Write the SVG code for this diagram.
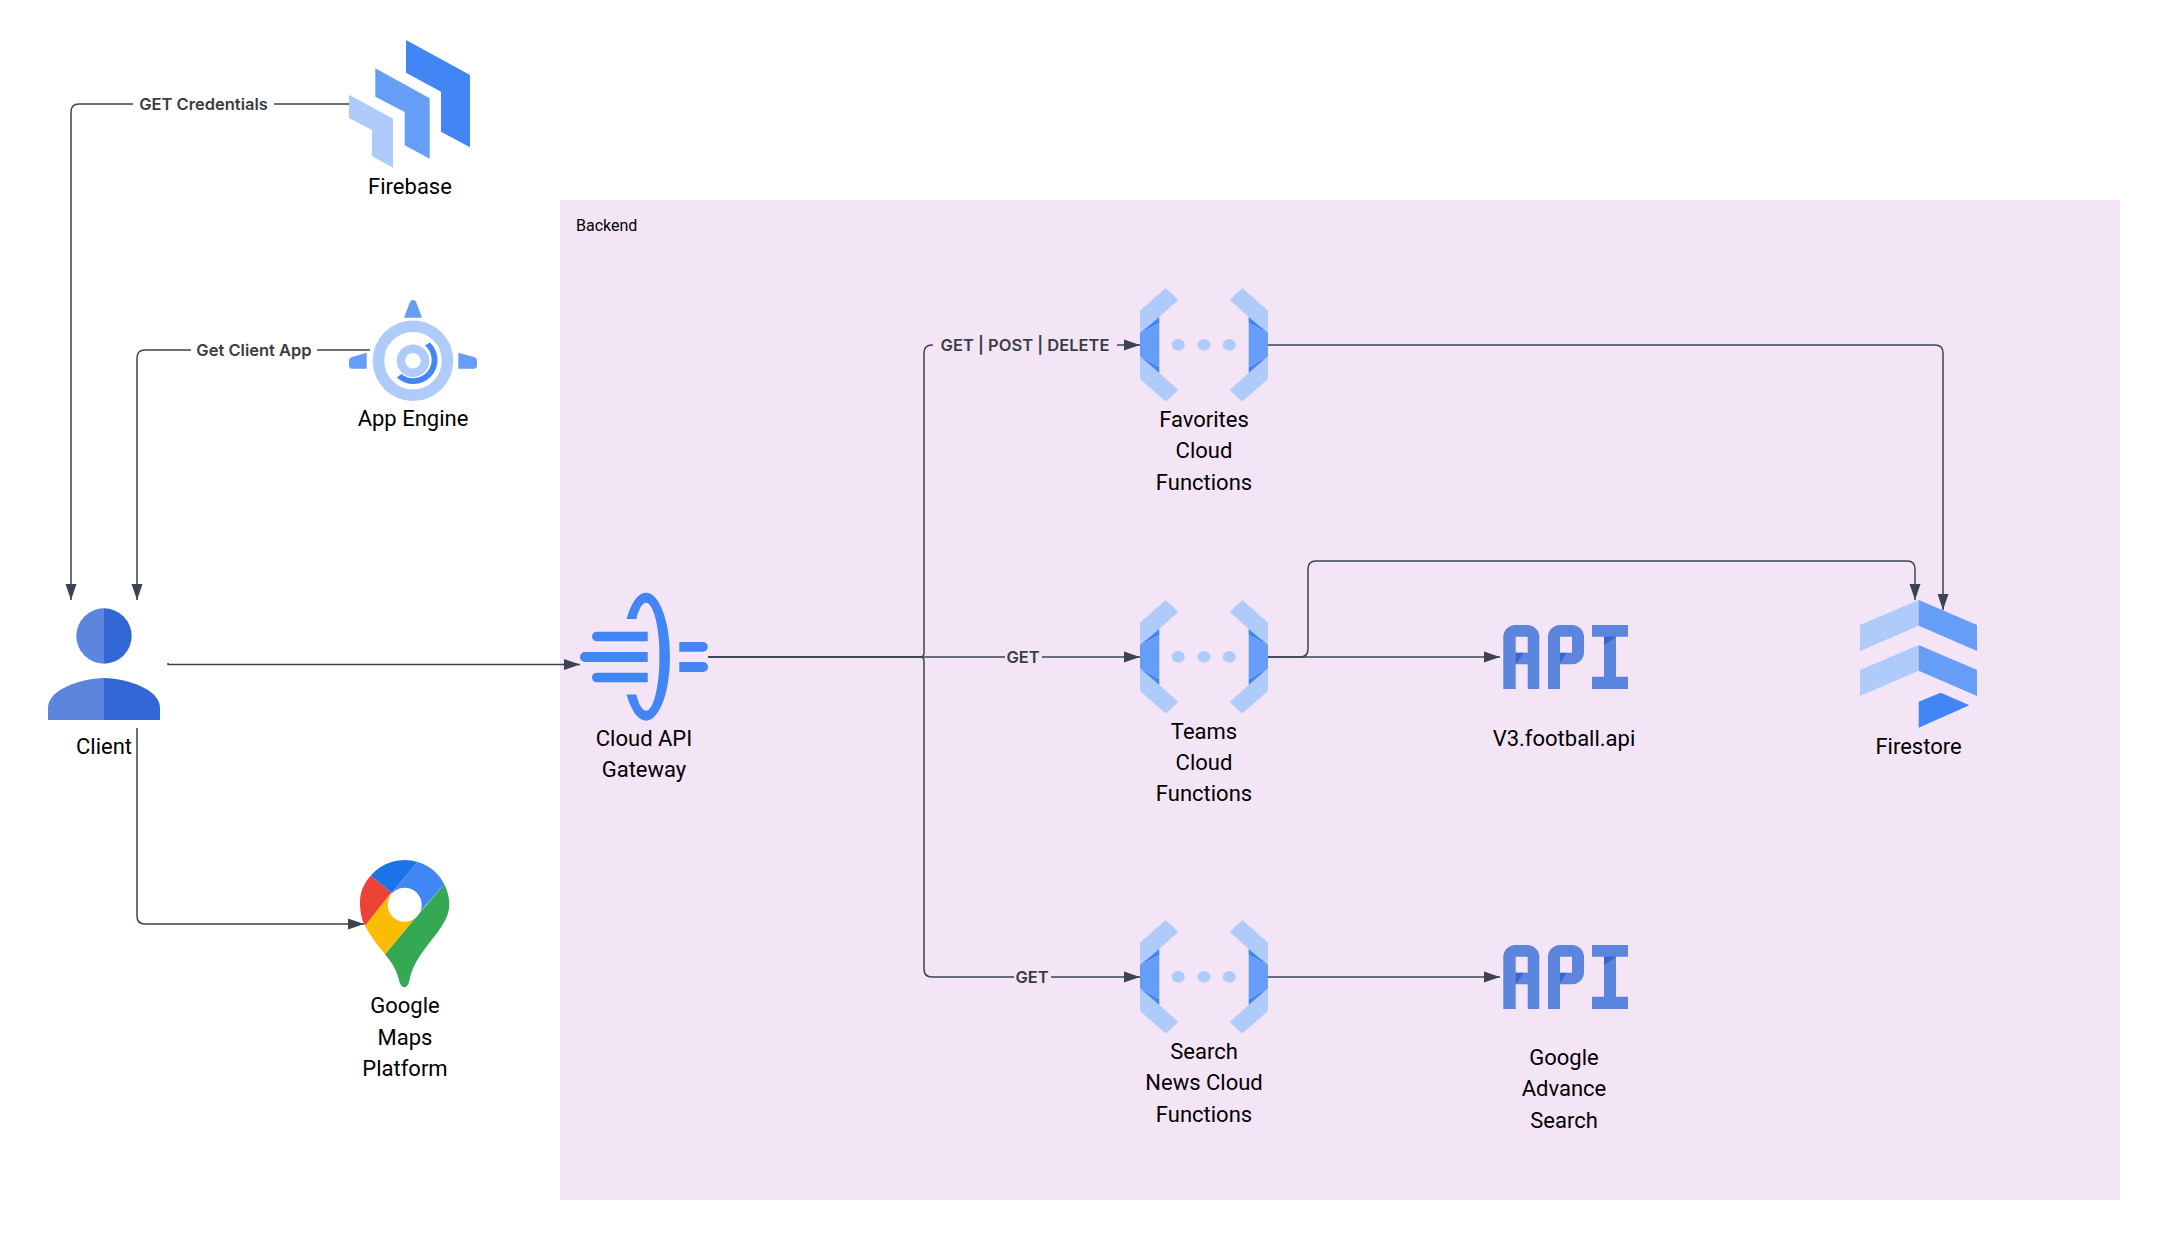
<svg xmlns="http://www.w3.org/2000/svg" width="2160" height="1240" viewBox="0 0 2160 1240">
<style>
.lbl{font-family:"Roboto","Liberation Sans",sans-serif;font-size:22px;fill:#000;text-anchor:middle}
.clbl{font-family:"Inter","Liberation Sans",sans-serif;font-size:16.5px;font-weight:600;fill:#3a3d42;text-anchor:middle}
.c{fill:none;stroke:#3c4350;stroke-width:1.5}
.l{fill:#aecbfa}.m{fill:#669df6}.d{fill:#4285f4}.a{fill:#5c85de}.b{fill:#3367d6}
</style>
<defs>
<marker id="ah" markerUnits="userSpaceOnUse" markerWidth="17" markerHeight="12" refX="16" refY="6" orient="auto"><path d="M0,0.5L16,6L0,11.5Z" fill="#3c4350"/></marker>
<g id="fn">
<polygon class="l" points="1140,622.7 1165.7,600 1178.3,611.7 1159.3,629 1140,645"/>
<polygon class="l" points="1140,668.3 1159.3,685 1178.3,702 1165.7,713.4 1140,691"/>
<polygon class="d" points="1159.3,629 1140,645 1159.3,635"/>
<polygon class="d" points="1159.3,685 1140,668.3 1159.3,679"/>
<polygon class="m" points="1140,645 1159.3,635 1159.3,679 1140,668.3"/>
<polygon class="l" points="1268,622.7 1242.3,600 1229.7,611.7 1248.7,629 1268,645"/>
<polygon class="l" points="1268,668.3 1248.7,685 1229.7,702 1242.3,713.4 1268,691"/>
<polygon class="d" points="1248.7,629 1268,645 1248.7,635"/>
<polygon class="d" points="1248.7,685 1268,668.3 1248.7,679"/>
<polygon class="m" points="1268,645 1248.7,635 1248.7,679 1268,668.3"/>
<ellipse class="l" cx="1178.3" cy="656.7" rx="6.5" ry="5.7"/>
<ellipse class="l" cx="1204" cy="656.7" rx="6.5" ry="5.7"/>
<ellipse class="l" cx="1229.3" cy="656.7" rx="6.5" ry="5.7"/>
</g>
<g id="api">
<path class="a" fill-rule="evenodd" d="M1503.3,689V637A12,12 0 0 1 1515.3,625H1527.3A12,12 0 0 1 1539.3,637V689H1527.7V664.3H1515.7V689ZM1515.7,636.7V652.7H1527.7V636.7Z"/>
<path class="a" fill-rule="evenodd" d="M1548,689V637A12,12 0 0 1 1560,625H1572A12,12 0 0 1 1584,637V652.3A12,12 0 0 1 1572,664.3H1560V689ZM1560,636.7V652.7H1572V636.7Z"/>
<path class="a" d="M1592,625H1628V636.7H1616V676.7H1628V689H1592V676.7H1604V636.7H1592Z"/>
<polygon class="b" points="1515.7,652.7 1524,652.7 1515.7,664.3"/>
<polygon class="b" points="1560,652.7 1566.5,652.7 1560,663.5"/>
<polygon class="b" points="1604,636.7 1616,636.7 1604,645"/>
</g>
</defs>
<rect width="2160" height="1240" fill="#fff"/>
<rect id="backend" x="560" y="200" width="1560" height="1000" fill="#f3e5f5"/>
<text x="576" y="231" font-family="Roboto,'Liberation Sans',sans-serif" font-size="16" fill="#000">Backend</text>

<g id="connectors">
<path class="c" d="M349,104H79Q71,104 71,112V600" marker-end="url(#ah)"/>
<path class="c" d="M370,350H145Q137,350 137,358V600" marker-end="url(#ah)"/>
<path class="c" d="M168,663V664.5H580" marker-end="url(#ah)"/>
<path class="c" d="M137,728V916Q137,924 145,924H364" marker-end="url(#ah)"/>
<path class="c" d="M708,657H1140" marker-end="url(#ah)"/>
<path class="c" d="M708,657H920Q924,657 924,653V353Q924,345 932,345H1140" marker-end="url(#ah)"/>
<path class="c" d="M708,657H920Q924,657 924,661V969Q924,977 932,977H1140" marker-end="url(#ah)"/>
<path class="c" d="M1268,345H1935Q1943,345 1943,353V610" marker-end="url(#ah)"/>
<path class="c" d="M1268,657H1500" marker-end="url(#ah)"/>
<path class="c" d="M1268,657H1300Q1308,657 1308,649V569Q1308,561 1316,561H1907Q1915,561 1915,569V600" marker-end="url(#ah)"/>
<path class="c" d="M1268,977H1500" marker-end="url(#ah)"/>
<rect x="133" y="94" width="141" height="20" fill="#fff"/>
<text class="clbl" x="203.500" y="110">GET Credentials</text>
<rect x="191" y="340" width="126" height="20" fill="#fff"/>
<text class="clbl" x="254" y="356">Get Client App</text>
<rect x="933" y="335" width="184" height="20" fill="#f3e5f5"/>
<text class="clbl" x="1025" y="351">GET | POST | DELETE</text>
<rect x="1005" y="647" width="37" height="20" fill="#f3e5f5"/>
<text class="clbl" x="1023" y="663">GET</text>
<rect x="1014" y="967" width="37" height="20" fill="#f3e5f5"/>
<text class="clbl" x="1032" y="983">GET</text>
</g>

<g id="firebase">
<polygon class="d" points="406,40 470,75 470,147.300 441,131.700 441,91.700 406,72.700"/>
<polygon class="m" points="375.300,68.300 429.700,98.300 429.700,158.700 404.700,145.300 404.700,112 375.300,96.700"/>
<polygon class="l" points="349,94.700 393,118.700 393,167.700 372,156.300 372,130 349,118"/>
<text class="lbl" x="410" y="194">Firebase</text>
</g>
<g id="appengine">
<path class="m" d="M404,317.700L409.500,303Q410.500,300 413,300Q415.500,300 416.500,303L422,317.700Z"/>
<path class="m" d="M366.700,352.700L352,357Q349,358 349,361V365Q349,368.700 352,368.700H366.700Z"/>
<path class="m" d="M458.300,352.700L474,357Q477,358 477,361V365Q477,368.700 474,368.700H458.300Z"/>
<circle cx="413" cy="360.700" r="34.500" fill="none" stroke="#aecbfa" stroke-width="11.500"/>
<circle cx="413" cy="360.700" r="12" fill="none" stroke="#aecbfa" stroke-width="8.500"/>
<path class="d" d="M425,345.500L430,342.500A24,24 0 0 1 396.800,377.500L401.500,374A16,16 0 0 0 425,345.500Z"/>
<text class="lbl" x="413" y="426">App Engine</text>
</g>
<g id="client">
<path class="a" d="M104,608.300A27.700,27.700 0 0 0 104,663.700Z"/>
<path class="b" d="M104,608.300A27.700,27.700 0 0 1 104,663.700Z"/>
<path class="a" d="M104,678C78,679 48,690 48,708V720H104Z"/>
<path class="b" d="M104,678C130,679 160,690 160,708V720H104Z"/>
<text class="lbl" x="104" y="753.500">Client</text>
</g>
<g id="maps">
<path fill="#34a853" d="M444.300,884.300A44.700,44.700 0 0 1 449.300,904.500C449.300,930 416,948 409.500,980Q408,987.300 404.300,987.300Q400.500,987.300 399,980C396,968 391,962 385,954.300L415,918.300Z"/>
<path fill="#fbbc04" d="M365,925.700L389.300,895L415,918.300L385,954.300C377,944 370,936 365,925.700Z"/>
<path fill="#ea4335" d="M370.700,875.700L391.700,892.700L389.300,895L365,925.700C361,918 360,910 360,901.700C360,892 364,883 370.700,875.700Z"/>
<path fill="#1a73e8" d="M370.700,875.700A44.700,44.700 0 0 1 417.700,862L391.700,892.700Z"/>
<path fill="#4285f4" d="M417.700,862A44.700,44.700 0 0 1 444.300,884.300L417,915L391.700,892.700Z"/>
<circle cx="404.700" cy="904.700" r="17" fill="#fff"/>
<text class="lbl"><tspan x="405" y="1013">Google</tspan><tspan x="405" y="1045">Maps</tspan><tspan x="405" y="1076">Platform</tspan></text>
</g>
<g id="gateway">
<path class="d" d="M626.600,619A24,64 0 1 1 626.600,694.400H636.300A13.500,54 0 1 0 636.300,619Z"/>
<path class="d" d="M647.700,631.700H596.800A4.800,4.800 0 0 0 596.800,641.300H647.700Z"/>
<path class="d" d="M647.700,652H585A5,5 0 0 0 585,662H647.700Z"/>
<path class="d" d="M647.700,672.700H596.800A4.800,4.800 0 0 0 596.800,682.300H647.700Z"/>
<path class="d" d="M679.300,642H703A4.850,4.850 0 0 1 703,651.700H679.300Z"/>
<path class="d" d="M679.300,662H703A5,5 0 0 1 703,672H679.300Z"/>
<text class="lbl"><tspan x="644" y="746">Cloud API</tspan><tspan x="644" y="777">Gateway</tspan></text>
</g>
<g id="favorites">
<use href="#fn" y="-312"/>
<text class="lbl"><tspan x="1204" y="427">Favorites</tspan><tspan x="1204" y="458">Cloud</tspan><tspan x="1204" y="490">Functions</tspan></text>
</g>
<g id="teams">
<use href="#fn"/>
<text class="lbl"><tspan x="1204" y="739">Teams</tspan><tspan x="1204" y="770">Cloud</tspan><tspan x="1204" y="801">Functions</tspan></text>
</g>
<g id="search">
<use href="#fn" y="320"/>
<text class="lbl"><tspan x="1204" y="1059">Search</tspan><tspan x="1204" y="1090">News Cloud</tspan><tspan x="1204" y="1122">Functions</tspan></text>
</g>
<g id="v3api">
<use href="#api"/>
<text class="lbl" x="1564" y="746">V3.football.api</text>
</g>
<g id="advsearch">
<use href="#api" y="320"/>
<text class="lbl"><tspan x="1564" y="1065">Google</tspan><tspan x="1564" y="1096">Advance</tspan><tspan x="1564" y="1128">Search</tspan></text>
</g>
<g id="firestore">
<polygon class="l" points="1918.700,600 1860,625 1860,651 1918.700,625.700"/>
<polygon class="m" points="1918.700,600 1977,625 1977,651 1918.700,625.700"/>
<polygon class="l" points="1918.700,645 1860,670 1860,696 1918.700,670.700"/>
<polygon class="m" points="1918.700,645 1977,670 1977,696 1918.700,670.700"/>
<polygon class="d" points="1918.700,701.700 1940.700,692.700 1969.300,705.300 1918.700,727.700"/>
<text class="lbl" x="1918.500" y="753.500">Firestore</text>
</g>
</svg>
